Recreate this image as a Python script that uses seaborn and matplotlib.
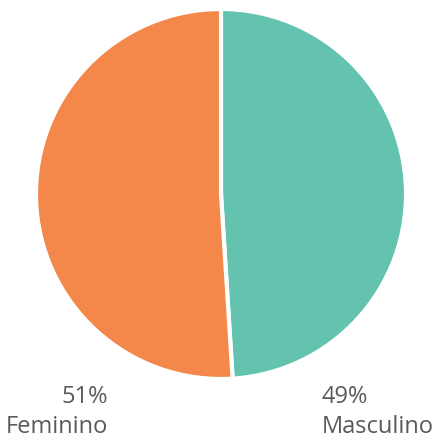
import matplotlib
matplotlib.use("Agg")
import matplotlib.pyplot as plt
import seaborn as sns

labels = ["Masculino", "Feminino"]
values = [49, 51]
colors = ["#63c3ae", "#f4874a"]

sns.set_theme(style="white")
plt.rcParams['font.family'] = ['Open Sans', 'DejaVu Sans']

fig = plt.figure(figsize=(4.35, 4.43), dpi=100)
ax = fig.add_axes([36 / 435, 1 - 379 / 443, 370 / 435, 370 / 443])
ax.pie(values, colors=colors, startangle=90, counterclock=False,
       wedgeprops=dict(edgecolor='white', linewidth=3))
ax.set_xlim(-1, 1)
ax.set_ylim(-1, 1)
ax.set_aspect('equal')

text_color = '#5a5a5a'
fig.text(108 / 435, 1 - 412 / 443, f"{values[1]}%\n{labels[1]}", ha='right', va='center',
         fontsize=17, color=text_color, linespacing=1.3)
fig.text(322 / 435, 1 - 412 / 443, f"{values[0]}%\n{labels[0]}", ha='left', va='center',
         fontsize=17, color=text_color, linespacing=1.3)

fig.savefig("out.png", dpi=100)
